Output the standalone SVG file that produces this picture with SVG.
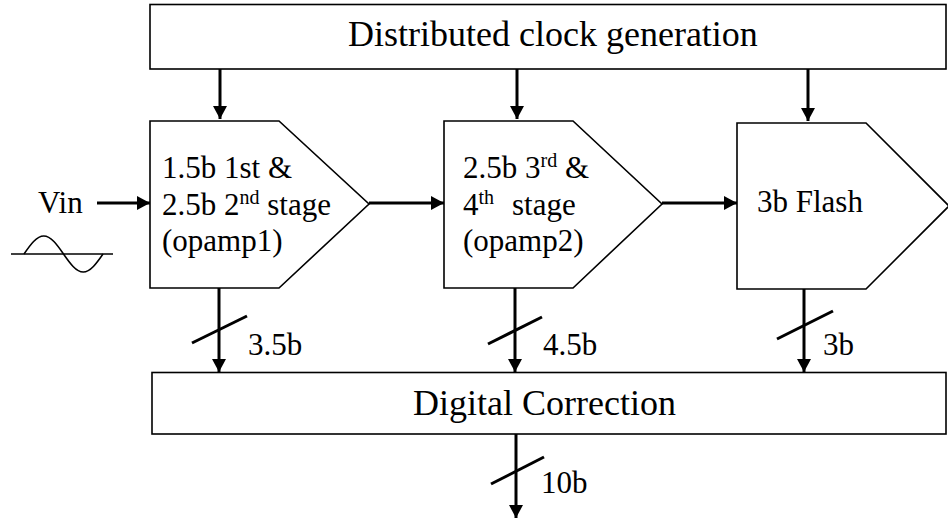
<svg xmlns="http://www.w3.org/2000/svg" width="948" height="523" viewBox="0 0 948 523" font-family="'Liberation Serif', 'Times New Roman', Times, 'DejaVu Serif', serif">
<style>
.box{fill:#fff;stroke:#000;stroke-width:1.6}
.t{font-family:'Liberation Serif','Times New Roman',Times,'DejaVu Serif','Noto Serif',serif;fill:#000}
.big{font-size:36px}
.mid{font-size:31px}
.sup{font-size:20px}
.con{stroke:#000;stroke-width:3;fill:none}
.thin{stroke:#000;stroke-width:1.6;fill:none}
</style>
<defs>
<marker id="ah" markerUnits="userSpaceOnUse" markerWidth="13" markerHeight="14" viewBox="0 0 13 14" refX="13" refY="7" orient="auto">
<path d="M0,0 L13,7 L0,14 z" fill="#000"/>
</marker>
</defs>
<g id="clock">
<rect class="box" x="150" y="4.5" width="796" height="64.5"/>
<text class="t big" x="348" y="46">Distributed clock generation</text>
</g>
<g id="stage1">
<polygon class="box" points="150,121 279,121 369,204 279,288 150,288"/>
<text class="t mid" x="162" y="178">1.5b 1st &amp;</text>
<text class="t mid" x="162" y="215">2.5b 2<tspan class="sup" dy="-11">nd</tspan><tspan dy="11"> stage</tspan></text>
<text class="t mid" x="162" y="251">(opamp1)</text>
</g>
<g id="stage2">
<polygon class="box" points="444,121 573,121 662,204 573,288 444,288"/>
<text class="t mid" x="463" y="178">2.5b 3<tspan class="sup" dy="-11">rd</tspan><tspan dy="11"> &amp;</tspan></text>
<text class="t mid" x="463" y="215">4<tspan class="sup" dy="-11">th</tspan><tspan x="512" dy="11">stage</tspan></text>
<text class="t mid" x="463" y="251">(opamp2)</text>
</g>
<g id="flash">
<polygon class="box" points="737,123 866,123 949,206 866,289 737,289"/>
<text class="t mid" x="757" y="212">3b Flash</text>
</g>
<g id="correction">
<rect class="box" x="152" y="372.5" width="794" height="61.5"/>
<text class="t big" x="413" y="415">Digital Correction</text>
</g>
<g id="vin">
<text class="t mid" x="38" y="213">Vin</text>
<line class="thin" x1="11" y1="254" x2="113" y2="254"/>
<path class="thin" d="M24,254 C30.4,244.8 36.6,236 43.75,236 C50.9,236 57.1,244.8 63.5,254 C69.9,263.2 76.1,272 83.25,272 C90.4,272 96.6,263.2 103,254"/>
</g>
<g id="connectors">
<line class="con" x1="220" y1="69" x2="220" y2="119" marker-end="url(#ah)"/>
<line class="con" x1="517" y1="69" x2="517" y2="119" marker-end="url(#ah)"/>
<line class="con" x1="808" y1="69" x2="808" y2="121" marker-end="url(#ah)"/>
<line class="con" x1="97" y1="203" x2="150" y2="203" marker-end="url(#ah)"/>
<line class="con" x1="369" y1="203" x2="444" y2="203" marker-end="url(#ah)"/>
<line class="con" x1="662" y1="203" x2="737" y2="203" marker-end="url(#ah)"/>
<line class="con" x1="219" y1="288" x2="219" y2="372" marker-end="url(#ah)"/>
<line class="con" x1="192" y1="343" x2="247" y2="316"/>
<line class="con" x1="515" y1="288" x2="515" y2="372" marker-end="url(#ah)"/>
<line class="con" x1="488" y1="344" x2="542" y2="317"/>
<line class="con" x1="804" y1="289" x2="804" y2="372" marker-end="url(#ah)"/>
<line class="con" x1="777" y1="339" x2="833" y2="311"/>
<line class="con" x1="516" y1="434" x2="516" y2="518" marker-end="url(#ah)"/>
<line class="con" x1="491" y1="484" x2="544" y2="457"/>
</g>
<g id="labels">
<text class="t mid" x="248" y="355">3.5b</text>
<text class="t mid" x="543" y="355">4.5b</text>
<text class="t mid" x="823" y="355">3b</text>
<text class="t mid" x="541" y="493">10b</text>
</g>
</svg>
